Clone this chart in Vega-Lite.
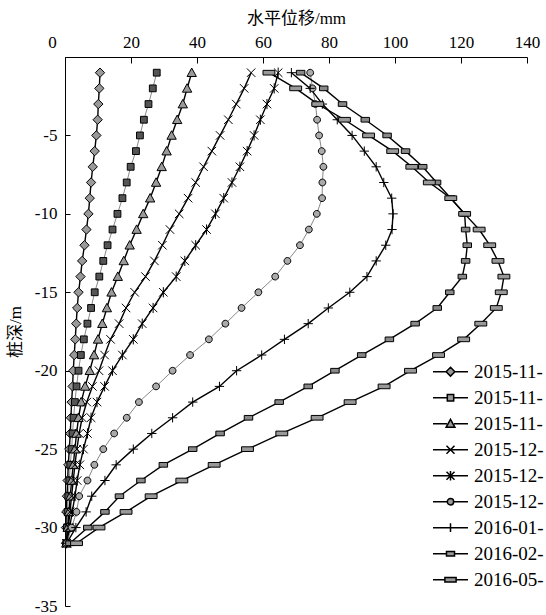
{
  "$schema": "https://vega.github.io/schema/vega-lite/v6.json",
  "width": 462,
  "height": 549,
  "autosize": "none",
  "padding": {"left": 65, "top": 57, "right": 19, "bottom": 9},
  "background": "white",
  "config": {
    "view": {"stroke": null},
    "axis": {
      "grid": false,
      "domainColor": "#000",
      "tickColor": "#000",
      "labelColor": "#000",
      "titleColor": "#000",
      "labelFont": "Liberation Serif",
      "titleFont": "Liberation Serif, Noto Sans CJK SC",
      "labelFontSize": 17,
      "titleFontSize": 17,
      "titleFontWeight": "normal",
      "domainWidth": 1,
      "tickWidth": 1,
      "labelOverlap": false,
      "labelFlush": false
    }
  },
  "data": {
    "values": [
      {"series":"2015-11-a","depth":-1,"disp":10.6},{"series":"2015-11-a","depth":-2,"disp":10.4},{"series":"2015-11-a","depth":-3,"disp":10.1},{"series":"2015-11-a","depth":-4,"disp":9.9},{"series":"2015-11-a","depth":-5,"disp":9.5},{"series":"2015-11-a","depth":-6,"disp":9.0},{"series":"2015-11-a","depth":-7,"disp":8.4},{"series":"2015-11-a","depth":-8,"disp":7.9},{"series":"2015-11-a","depth":-9,"disp":7.5},{"series":"2015-11-a","depth":-10,"disp":7.1},{"series":"2015-11-a","depth":-11,"disp":6.5},{"series":"2015-11-a","depth":-12,"disp":5.9},{"series":"2015-11-a","depth":-13,"disp":5.2},{"series":"2015-11-a","depth":-14,"disp":4.7},{"series":"2015-11-a","depth":-15,"disp":4.1},{"series":"2015-11-a","depth":-16,"disp":3.7},{"series":"2015-11-a","depth":-17,"disp":3.4},{"series":"2015-11-a","depth":-18,"disp":3.1},{"series":"2015-11-a","depth":-19,"disp":2.8},{"series":"2015-11-a","depth":-20,"disp":2.5},{"series":"2015-11-a","depth":-21,"disp":2.3},{"series":"2015-11-a","depth":-22,"disp":2.0},{"series":"2015-11-a","depth":-23,"disp":1.8},{"series":"2015-11-a","depth":-24,"disp":1.6},{"series":"2015-11-a","depth":-25,"disp":1.3},{"series":"2015-11-a","depth":-26,"disp":1.0},{"series":"2015-11-a","depth":-27,"disp":0.8},{"series":"2015-11-a","depth":-28,"disp":0.6},{"series":"2015-11-a","depth":-29,"disp":0.4},{"series":"2015-11-a","depth":-30,"disp":0.3},{"series":"2015-11-a","depth":-31,"disp":0.3},
      {"series":"2015-11-b","depth":-1,"disp":27.8},{"series":"2015-11-b","depth":-2,"disp":26.6},{"series":"2015-11-b","depth":-3,"disp":25.3},{"series":"2015-11-b","depth":-4,"disp":23.9},{"series":"2015-11-b","depth":-5,"disp":22.7},{"series":"2015-11-b","depth":-6,"disp":21.5},{"series":"2015-11-b","depth":-7,"disp":19.9},{"series":"2015-11-b","depth":-8,"disp":18.7},{"series":"2015-11-b","depth":-9,"disp":17.4},{"series":"2015-11-b","depth":-10,"disp":15.9},{"series":"2015-11-b","depth":-11,"disp":14.4},{"series":"2015-11-b","depth":-12,"disp":12.9},{"series":"2015-11-b","depth":-13,"disp":11.6},{"series":"2015-11-b","depth":-14,"disp":10.4},{"series":"2015-11-b","depth":-15,"disp":9.0},{"series":"2015-11-b","depth":-16,"disp":7.9},{"series":"2015-11-b","depth":-17,"disp":6.8},{"series":"2015-11-b","depth":-18,"disp":5.7},{"series":"2015-11-b","depth":-19,"disp":4.8},{"series":"2015-11-b","depth":-20,"disp":4.1},{"series":"2015-11-b","depth":-21,"disp":3.5},{"series":"2015-11-b","depth":-22,"disp":3.0},{"series":"2015-11-b","depth":-23,"disp":2.6},{"series":"2015-11-b","depth":-24,"disp":2.3},{"series":"2015-11-b","depth":-25,"disp":2.0},{"series":"2015-11-b","depth":-26,"disp":1.6},{"series":"2015-11-b","depth":-27,"disp":1.3},{"series":"2015-11-b","depth":-28,"disp":1.0},{"series":"2015-11-b","depth":-29,"disp":0.8},{"series":"2015-11-b","depth":-30,"disp":0.6},{"series":"2015-11-b","depth":-31,"disp":0.4},
      {"series":"2015-11-c","depth":-1,"disp":38.4},{"series":"2015-11-c","depth":-2,"disp":37.0},{"series":"2015-11-c","depth":-3,"disp":35.7},{"series":"2015-11-c","depth":-4,"disp":34.0},{"series":"2015-11-c","depth":-5,"disp":32.3},{"series":"2015-11-c","depth":-6,"disp":30.8},{"series":"2015-11-c","depth":-7,"disp":29.3},{"series":"2015-11-c","depth":-8,"disp":27.6},{"series":"2015-11-c","depth":-9,"disp":25.8},{"series":"2015-11-c","depth":-10,"disp":23.7},{"series":"2015-11-c","depth":-11,"disp":21.7},{"series":"2015-11-c","depth":-12,"disp":19.6},{"series":"2015-11-c","depth":-13,"disp":17.8},{"series":"2015-11-c","depth":-14,"disp":16.0},{"series":"2015-11-c","depth":-15,"disp":14.1},{"series":"2015-11-c","depth":-16,"disp":12.7},{"series":"2015-11-c","depth":-17,"disp":11.3},{"series":"2015-11-c","depth":-18,"disp":10.0},{"series":"2015-11-c","depth":-19,"disp":8.8},{"series":"2015-11-c","depth":-20,"disp":7.5},{"series":"2015-11-c","depth":-21,"disp":6.1},{"series":"2015-11-c","depth":-22,"disp":4.9},{"series":"2015-11-c","depth":-23,"disp":4.1},{"series":"2015-11-c","depth":-24,"disp":3.5},{"series":"2015-11-c","depth":-25,"disp":3.0},{"series":"2015-11-c","depth":-26,"disp":2.5},{"series":"2015-11-c","depth":-27,"disp":2.0},{"series":"2015-11-c","depth":-28,"disp":1.6},{"series":"2015-11-c","depth":-29,"disp":1.2},{"series":"2015-11-c","depth":-30,"disp":0.8},{"series":"2015-11-c","depth":-31,"disp":0.4},
      {"series":"2015-12-a","depth":-1,"disp":56.4},{"series":"2015-12-a","depth":-2,"disp":54.3},{"series":"2015-12-a","depth":-3,"disp":51.9},{"series":"2015-12-a","depth":-4,"disp":49.5},{"series":"2015-12-a","depth":-5,"disp":47.0},{"series":"2015-12-a","depth":-6,"disp":44.5},{"series":"2015-12-a","depth":-7,"disp":42.0},{"series":"2015-12-a","depth":-8,"disp":39.6},{"series":"2015-12-a","depth":-9,"disp":37.3},{"series":"2015-12-a","depth":-10,"disp":34.6},{"series":"2015-12-a","depth":-11,"disp":31.8},{"series":"2015-12-a","depth":-12,"disp":29.5},{"series":"2015-12-a","depth":-13,"disp":27.1},{"series":"2015-12-a","depth":-14,"disp":24.4},{"series":"2015-12-a","depth":-15,"disp":21.1},{"series":"2015-12-a","depth":-16,"disp":18.5},{"series":"2015-12-a","depth":-17,"disp":16.4},{"series":"2015-12-a","depth":-18,"disp":13.8},{"series":"2015-12-a","depth":-19,"disp":12.0},{"series":"2015-12-a","depth":-20,"disp":10.3},{"series":"2015-12-a","depth":-21,"disp":8.3},{"series":"2015-12-a","depth":-22,"disp":6.6},{"series":"2015-12-a","depth":-23,"disp":5.2},{"series":"2015-12-a","depth":-24,"disp":4.3},{"series":"2015-12-a","depth":-25,"disp":3.6},{"series":"2015-12-a","depth":-26,"disp":3.0},{"series":"2015-12-a","depth":-27,"disp":2.5},{"series":"2015-12-a","depth":-28,"disp":2.0},{"series":"2015-12-a","depth":-29,"disp":1.5},{"series":"2015-12-a","depth":-30,"disp":1.0},{"series":"2015-12-a","depth":-31,"disp":0.5},
      {"series":"2015-12-b","depth":-1,"disp":64.6},{"series":"2015-12-b","depth":-2,"disp":63.4},{"series":"2015-12-b","depth":-3,"disp":61.2},{"series":"2015-12-b","depth":-4,"disp":59.2},{"series":"2015-12-b","depth":-5,"disp":57.3},{"series":"2015-12-b","depth":-6,"disp":55.2},{"series":"2015-12-b","depth":-7,"disp":53.0},{"series":"2015-12-b","depth":-8,"disp":50.6},{"series":"2015-12-b","depth":-9,"disp":48.1},{"series":"2015-12-b","depth":-10,"disp":45.6},{"series":"2015-12-b","depth":-11,"disp":42.9},{"series":"2015-12-b","depth":-12,"disp":39.6},{"series":"2015-12-b","depth":-13,"disp":36.3},{"series":"2015-12-b","depth":-14,"disp":33.7},{"series":"2015-12-b","depth":-15,"disp":29.8},{"series":"2015-12-b","depth":-16,"disp":26.7},{"series":"2015-12-b","depth":-17,"disp":23.4},{"series":"2015-12-b","depth":-18,"disp":20.7},{"series":"2015-12-b","depth":-19,"disp":17.4},{"series":"2015-12-b","depth":-20,"disp":14.4},{"series":"2015-12-b","depth":-21,"disp":12.0},{"series":"2015-12-b","depth":-22,"disp":9.7},{"series":"2015-12-b","depth":-23,"disp":7.9},{"series":"2015-12-b","depth":-24,"disp":6.8},{"series":"2015-12-b","depth":-25,"disp":5.6},{"series":"2015-12-b","depth":-26,"disp":4.5},{"series":"2015-12-b","depth":-27,"disp":3.7},{"series":"2015-12-b","depth":-28,"disp":3.0},{"series":"2015-12-b","depth":-29,"disp":2.2},{"series":"2015-12-b","depth":-30,"disp":1.4},{"series":"2015-12-b","depth":-31,"disp":0.5},
      {"series":"2015-12-c","depth":-1,"disp":74.3},{"series":"2015-12-c","depth":-2,"disp":75.0},{"series":"2015-12-c","depth":-3,"disp":75.9},{"series":"2015-12-c","depth":-4,"disp":76.4},{"series":"2015-12-c","depth":-5,"disp":77.0},{"series":"2015-12-c","depth":-6,"disp":77.8},{"series":"2015-12-c","depth":-7,"disp":78.3},{"series":"2015-12-c","depth":-8,"disp":78.0},{"series":"2015-12-c","depth":-9,"disp":77.9},{"series":"2015-12-c","depth":-10,"disp":76.3},{"series":"2015-12-c","depth":-11,"disp":73.9},{"series":"2015-12-c","depth":-12,"disp":71.2},{"series":"2015-12-c","depth":-13,"disp":67.4},{"series":"2015-12-c","depth":-14,"disp":63.7},{"series":"2015-12-c","depth":-15,"disp":58.6},{"series":"2015-12-c","depth":-16,"disp":53.5},{"series":"2015-12-c","depth":-17,"disp":48.6},{"series":"2015-12-c","depth":-18,"disp":43.6},{"series":"2015-12-c","depth":-19,"disp":37.9},{"series":"2015-12-c","depth":-20,"disp":32.6},{"series":"2015-12-c","depth":-21,"disp":27.6},{"series":"2015-12-c","depth":-22,"disp":22.4},{"series":"2015-12-c","depth":-23,"disp":18.7},{"series":"2015-12-c","depth":-24,"disp":14.9},{"series":"2015-12-c","depth":-25,"disp":11.6},{"series":"2015-12-c","depth":-26,"disp":8.9},{"series":"2015-12-c","depth":-27,"disp":6.8},{"series":"2015-12-c","depth":-28,"disp":4.3},{"series":"2015-12-c","depth":-29,"disp":3.5},{"series":"2015-12-c","depth":-30,"disp":2.0},{"series":"2015-12-c","depth":-31,"disp":0.5},
      {"series":"2016-01-a","depth":-1,"disp":68.6},{"series":"2016-01-a","depth":-2,"disp":74.3},{"series":"2016-01-a","depth":-3,"disp":78.0},{"series":"2016-01-a","depth":-4,"disp":82.5},{"series":"2016-01-a","depth":-5,"disp":87.0},{"series":"2016-01-a","depth":-6,"disp":90.7},{"series":"2016-01-a","depth":-7,"disp":94.3},{"series":"2016-01-a","depth":-8,"disp":96.6},{"series":"2016-01-a","depth":-9,"disp":99.0},{"series":"2016-01-a","depth":-10,"disp":99.4},{"series":"2016-01-a","depth":-11,"disp":99.1},{"series":"2016-01-a","depth":-12,"disp":97.2},{"series":"2016-01-a","depth":-13,"disp":94.3},{"series":"2016-01-a","depth":-14,"disp":91.5},{"series":"2016-01-a","depth":-15,"disp":86.3},{"series":"2016-01-a","depth":-16,"disp":79.8},{"series":"2016-01-a","depth":-17,"disp":73.7},{"series":"2016-01-a","depth":-18,"disp":66.5},{"series":"2016-01-a","depth":-19,"disp":59.6},{"series":"2016-01-a","depth":-20,"disp":52.0},{"series":"2016-01-a","depth":-21,"disp":46.8},{"series":"2016-01-a","depth":-22,"disp":38.7},{"series":"2016-01-a","depth":-23,"disp":32.6},{"series":"2016-01-a","depth":-24,"disp":26.3},{"series":"2016-01-a","depth":-25,"disp":20.7},{"series":"2016-01-a","depth":-26,"disp":15.5},{"series":"2016-01-a","depth":-27,"disp":12.1},{"series":"2016-01-a","depth":-28,"disp":8.1},{"series":"2016-01-a","depth":-29,"disp":6.4},{"series":"2016-01-a","depth":-30,"disp":3.3},{"series":"2016-01-a","depth":-31,"disp":0.5},
      {"series":"2016-02-a","depth":-1,"disp":71.4},{"series":"2016-02-a","depth":-2,"disp":78.4},{"series":"2016-02-a","depth":-3,"disp":84.1},{"series":"2016-02-a","depth":-4,"disp":91.0},{"series":"2016-02-a","depth":-5,"disp":97.6},{"series":"2016-02-a","depth":-6,"disp":103.2},{"series":"2016-02-a","depth":-7,"disp":108.4},{"series":"2016-02-a","depth":-8,"disp":112.6},{"series":"2016-02-a","depth":-9,"disp":116.9},{"series":"2016-02-a","depth":-10,"disp":121.1},{"series":"2016-02-a","depth":-11,"disp":121.4},{"series":"2016-02-a","depth":-12,"disp":121.9},{"series":"2016-02-a","depth":-13,"disp":121.4},{"series":"2016-02-a","depth":-14,"disp":120.4},{"series":"2016-02-a","depth":-15,"disp":116.6},{"series":"2016-02-a","depth":-16,"disp":112.8},{"series":"2016-02-a","depth":-17,"disp":106.1},{"series":"2016-02-a","depth":-18,"disp":98.3},{"series":"2016-02-a","depth":-19,"disp":89.9},{"series":"2016-02-a","depth":-20,"disp":81.8},{"series":"2016-02-a","depth":-21,"disp":73.7},{"series":"2016-02-a","depth":-22,"disp":64.9},{"series":"2016-02-a","depth":-23,"disp":55.6},{"series":"2016-02-a","depth":-24,"disp":47.0},{"series":"2016-02-a","depth":-25,"disp":38.7},{"series":"2016-02-a","depth":-26,"disp":29.8},{"series":"2016-02-a","depth":-27,"disp":23.0},{"series":"2016-02-a","depth":-28,"disp":16.5},{"series":"2016-02-a","depth":-29,"disp":12.1},{"series":"2016-02-a","depth":-30,"disp":6.9},{"series":"2016-02-a","depth":-31,"disp":1.5},
      {"series":"2016-05-a","depth":-1,"disp":61.8},{"series":"2016-05-a","depth":-2,"disp":69.9},{"series":"2016-05-a","depth":-3,"disp":76.6},{"series":"2016-05-a","depth":-4,"disp":84.7},{"series":"2016-05-a","depth":-5,"disp":92.0},{"series":"2016-05-a","depth":-6,"disp":99.3},{"series":"2016-05-a","depth":-7,"disp":105.1},{"series":"2016-05-a","depth":-8,"disp":110.4},{"series":"2016-05-a","depth":-9,"disp":116.9},{"series":"2016-05-a","depth":-10,"disp":121.1},{"series":"2016-05-a","depth":-11,"disp":125.5},{"series":"2016-05-a","depth":-12,"disp":128.7},{"series":"2016-05-a","depth":-13,"disp":131.2},{"series":"2016-05-a","depth":-14,"disp":133.0},{"series":"2016-05-a","depth":-15,"disp":132.2},{"series":"2016-05-a","depth":-16,"disp":130.7},{"series":"2016-05-a","depth":-17,"disp":126.0},{"series":"2016-05-a","depth":-18,"disp":120.8},{"series":"2016-05-a","depth":-19,"disp":113.2},{"series":"2016-05-a","depth":-20,"disp":104.7},{"series":"2016-05-a","depth":-21,"disp":96.7},{"series":"2016-05-a","depth":-22,"disp":86.4},{"series":"2016-05-a","depth":-23,"disp":76.4},{"series":"2016-05-a","depth":-24,"disp":65.7},{"series":"2016-05-a","depth":-25,"disp":55.3},{"series":"2016-05-a","depth":-26,"disp":45.2},{"series":"2016-05-a","depth":-27,"disp":35.4},{"series":"2016-05-a","depth":-28,"disp":26.1},{"series":"2016-05-a","depth":-29,"disp":18.5},{"series":"2016-05-a","depth":-30,"disp":10.3},{"series":"2016-05-a","depth":-31,"disp":3.5}
    ]
  },
  "encoding": {
    "x": {
      "field": "disp",
      "type": "quantitative",
      "scale": {"domain": [0, 140], "nice": false, "zero": false},
      "axis": {
        "orient": "top",
        "values": [0, 20, 40, 60, 80, 100, 120, 140],
        "title": "水平位移/mm",
        "titlePadding": 6,
        "tickSize": -6,
        "labelPadding": 12,
        "labelOffset": {"condition": {"test": "datum.value === 0", "value": -13}, "value": 0}
      }
    },
    "y": {
      "field": "depth",
      "type": "quantitative",
      "scale": {"domain": [-35, 0], "nice": false, "zero": false},
      "axis": {
        "orient": "left",
        "values": [-35, -30, -25, -20, -15, -10, -5, 0],
        "labelExpr": "datum.value === 0 ? '' : '' + datum.value",
        "title": "桩深/m",
        "titlePadding": 10,
        "tickSize": -5,
        "labelPadding": 13
      }
    }
  },
  "layer": [
    {
      "mark": {"type": "line", "interpolate": "linear", "clip": false},
      "encoding": {
        "order": {"field": "depth", "type": "quantitative"},
        "color": {
          "field": "series", "type": "nominal",
          "scale": {
            "domain": ["2015-11-a","2015-11-b","2015-11-c","2015-12-a","2015-12-b","2015-12-c","2016-01-a","2016-02-a","2016-05-a"],
            "range": ["#000000","#555555","#000000","#000000","#000000","#555555","#000000","#000000","#000000"]
          },
          "legend": null
        },
        "strokeWidth": {
          "field": "series", "type": "ordinal",
          "scale": {
            "type": "ordinal",
            "domain": ["2015-11-a","2015-11-b","2015-11-c","2015-12-a","2015-12-b","2015-12-c","2016-01-a","2016-02-a","2016-05-a"],
            "range": [1.4, 0.7, 1.4, 1.4, 1.4, 0.7, 1.4, 1.4, 1.4]
          },
          "legend": null
        }
      }
    },
    {
      "mark": {"type": "point", "filled": true, "stroke": "#000000", "strokeWidth": 1, "size": 72, "opacity": 1},
      "encoding": {
        "shape": {
          "field": "series", "type": "nominal",
          "scale": {
            "domain": ["2015-11-a","2015-11-b","2015-11-c","2015-12-a","2015-12-b","2015-12-c","2016-01-a","2016-02-a","2016-05-a"],
            "range": [
              "M0,-1.1L1.1,0L0,1.1L-1.1,0Z",
              "M-0.8,-0.8H0.8V0.8H-0.8Z",
              "M0,-1.1L1.1,0.9H-1.1Z",
              "M-1,-1L1,1M-1,1L1,-1",
              "M-1,-1L1,1M-1,1L1,-1M0,-1.2V1.2",
              "M0.8,0A0.8,0.8,0,1,1,-0.8,0A0.8,0.8,0,1,1,0.8,0Z",
              "M-1.1,0H1.1M0,-1.1V1.1",
              "M-1,-0.55H1V0.55H-1Z",
              "M-1.4,-0.55H1.4V0.55H-1.4Z"
            ]
          },
          "legend": null
        },
        "fill": {
          "field": "series", "type": "nominal",
          "scale": {
            "domain": ["2015-11-a","2015-11-b","2015-11-c","2015-12-a","2015-12-b","2015-12-c","2016-01-a","2016-02-a","2016-05-a"],
            "range": ["#999999","#555555","#999999","#000000","#000000","#aaaaaa","#000000","#888888","#999999"]
          },
          "legend": null
        }
      }
    },
    {
      "transform": [{"filter": "datum.depth > 100"}],
      "mark": {"type": "point", "filled": true, "fill": "#999999", "stroke": "#000000", "strokeWidth": 1, "opacity": 1},
      "encoding": {
        "shape": {
          "field": "series", "type": "nominal",
          "scale": {
            "domain": ["2015-11-a","2015-11-b","2015-11-c","2015-12-a","2015-12-b","2015-12-c","2016-01-a","2016-02-a","2016-05-a"],
            "range": [
              "M-1,0H-0.251M0.251,0H1M0,-0.251L0.251,0L0,0.251L-0.251,0Z",
              "M-1,0H-0.183M0.183,0H1M-0.183,-0.183H0.183V0.183H-0.183Z",
              "M-1,0H-0.2M0.2,0H1M0,-0.251L0.251,0.206H-0.251Z",
              "M-1,0H1M-0.229,-0.229L0.229,0.229M-0.229,0.229L0.229,-0.229",
              "M-1,0H1M-0.229,-0.229L0.229,0.229M-0.229,0.229L0.229,-0.229M0,-0.274V0.274",
              "M-1,0H-0.183M0.183,0H1M0.183,0A0.183,0.183,0,1,1,-0.183,0A0.183,0.183,0,1,1,0.183,0Z",
              "M-1,0H1M0,-0.251V0.251",
              "M-1,0H-0.229M0.229,0H1M-0.229,-0.126H0.229V0.126H-0.229Z",
              "M-1,0H-0.32M0.32,0H1M-0.32,-0.126H0.32V0.126H-0.32Z"
            ]
          },
          "legend": {
            "orient": "none",
            "legendX": 367,
            "legendY": 302,
            "title": null,
            "padding": 0,
            "symbolSize": 1225,
            "clipHeight": 25.4,
            "rowPadding": 0,
            "labelOffset": 5,
            "labelFont": "Liberation Serif",
            "labelFontSize": 19,
            "labelColor": "#000000",
            "labelLimit": 0,
            "labelExpr": "substring(datum.label, 0, 8)",
            "encode": {
              "symbols": {
                "update": {
                  "stroke": {"signal": "datum.value === '2015-11-b' || datum.value === '2015-12-c' ? '#444444' : '#000000'"},
                  "strokeWidth": {"signal": "datum.value === '2015-11-b' || datum.value === '2015-12-c' ? 0.7 : 1.2"},
                  "fill": {"value": "#999999"},
                  "opacity": {"value": 1}
                }
              }
            }
          }
        }
      }
    }
  ],
  "resolve": {"scale": {"shape": "independent"}}
}
